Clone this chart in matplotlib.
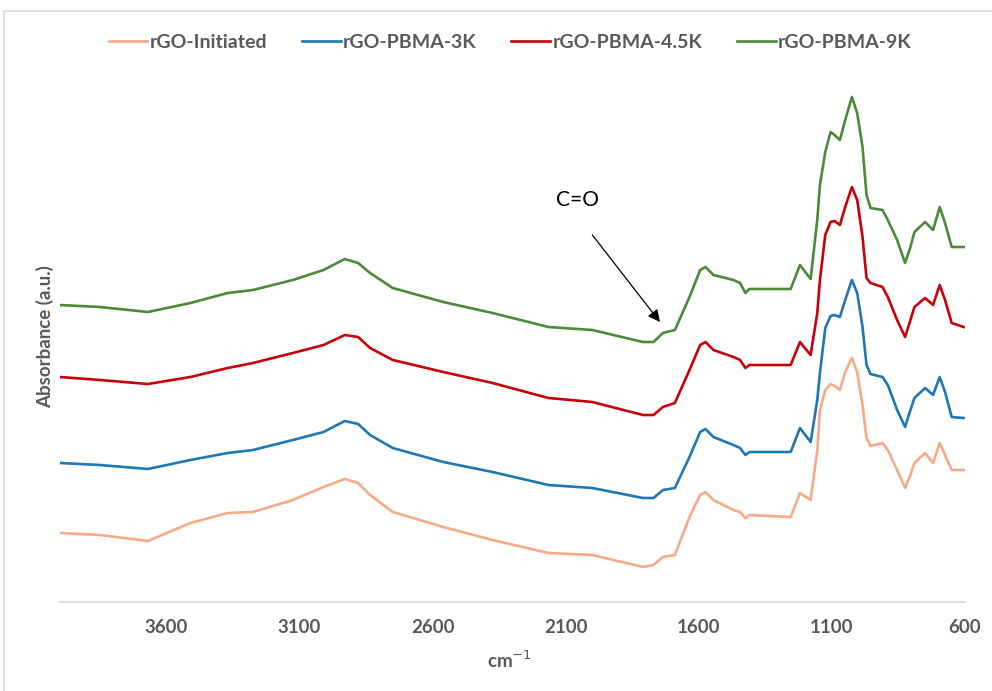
import matplotlib
matplotlib.use('Agg')
import matplotlib.pyplot as plt
from matplotlib.patches import Rectangle

# wavenumber grid (cm-1) shared by all spectra
wavenumber = [4000, 3850, 3670, 3510, 3370, 3275, 3125, 3010, 2930, 2880,
              2835, 2750, 2560, 2375, 2165, 2000, 1810, 1770, 1735, 1690,
              1635, 1595, 1575, 1545, 1470, 1445, 1425, 1410, 1255, 1220,
              1180, 1155, 1145, 1125, 1105, 1090, 1070, 1050, 1025, 1005,
              985, 970, 955, 910, 890, 855, 825, 805, 790, 750,
              720, 695, 675, 650, 605]

# stacked absorbance (offset, arbitrary units)
rgo_initiated = [0.69, 0.67, 0.61, 0.79, 0.89, 0.90, 1.02, 1.15, 1.23, 1.19,
                 1.07, 0.90, 0.75, 0.62, 0.49, 0.47, 0.35, 0.37, 0.45, 0.47,
                 0.85, 1.07, 1.10, 1.02, 0.92, 0.90, 0.84, 0.87, 0.85, 1.09,
                 1.02, 1.52, 1.92, 2.12, 2.18, 2.16, 2.12, 2.30, 2.44, 2.30,
                 1.97, 1.64, 1.56, 1.59, 1.52, 1.32, 1.14, 1.27, 1.39, 1.49,
                 1.39, 1.59, 1.47, 1.32, 1.32]
pbma_3k = [1.39, 1.37, 1.33, 1.42, 1.49, 1.52, 1.62, 1.70, 1.81, 1.78,
           1.67, 1.54, 1.40, 1.30, 1.17, 1.14, 1.04, 1.04, 1.12, 1.14,
           1.45, 1.70, 1.73, 1.65, 1.57, 1.54, 1.47, 1.50, 1.50, 1.74,
           1.60, 2.02, 2.29, 2.74, 2.86, 2.87, 2.85, 3.02, 3.22, 3.09,
           2.75, 2.37, 2.28, 2.25, 2.17, 1.92, 1.75, 1.92, 2.04, 2.14,
           2.07, 2.25, 2.10, 1.85, 1.84]
pbma_45k = [2.25, 2.22, 2.18, 2.25, 2.34, 2.39, 2.49, 2.57, 2.67, 2.65,
            2.54, 2.42, 2.30, 2.19, 2.04, 2.00, 1.87, 1.87, 1.95, 1.99,
            2.32, 2.57, 2.60, 2.52, 2.45, 2.42, 2.34, 2.37, 2.37, 2.60,
            2.47, 2.89, 3.22, 3.67, 3.80, 3.81, 3.77, 3.95, 4.15, 4.02,
            3.65, 3.24, 3.19, 3.15, 3.05, 2.82, 2.65, 2.82, 2.95, 3.04,
            2.97, 3.17, 3.02, 2.79, 2.75]
pbma_9k = [2.97, 2.95, 2.90, 2.99, 3.09, 3.12, 3.22, 3.32, 3.43, 3.39,
           3.29, 3.14, 3.00, 2.89, 2.75, 2.72, 2.60, 2.60, 2.69, 2.72,
           3.05, 3.32, 3.35, 3.27, 3.22, 3.19, 3.09, 3.13, 3.13, 3.37,
           3.23, 3.82, 4.17, 4.50, 4.70, 4.67, 4.62, 4.82, 5.05, 4.89,
           4.55, 4.07, 3.94, 3.92, 3.82, 3.62, 3.39, 3.55, 3.70, 3.80,
           3.72, 3.95, 3.79, 3.55, 3.55]

labels = ['rGO-Initiated', 'rGO-PBMA-3K', 'rGO-PBMA-4.5K', 'rGO-PBMA-9K']
colors = ['#F7AA84', '#1F77B4', '#C8000A', '#4C8A38']
xticks = [3600, 3100, 2600, 2100, 1600, 1100, 600]

grey = '#595959'
plt.rcParams['font.family'] = ['Lato', 'DejaVu Sans']

fig = plt.figure(figsize=(9.92, 6.91), dpi=100)
fig.patches.append(Rectangle((4 / 992, -0.1), 1.2, (691 - 11) / 691 + 0.1,
                             transform=fig.transFigure, fill=False,
                             edgecolor='#d9d9d9', linewidth=1.2))

ax = fig.add_axes([60 / 992, 1 - 602 / 691, 905 / 992, 532 / 691])
for y, lab, c in zip([rgo_initiated, pbma_3k, pbma_45k, pbma_9k], labels, colors):
    ax.plot(wavenumber, y, color=c, lw=1.9, label=lab,
            solid_joinstyle='round')

ax.set_xlim(4000, 600)
ax.set_ylim(0, 5.32)
ax.set_xticks(xticks)
ax.set_xticklabels([str(t) for t in xticks], fontsize=13.5,
                   fontweight='bold', color=grey)
ax.tick_params(axis='x', length=0, pad=12)
ax.set_yticks([])
for s in ['top', 'right', 'left']:
    ax.spines[s].set_visible(False)
ax.spines['bottom'].set_color('#d9d9d9')
ax.spines['bottom'].set_linewidth(1.3)

ax.annotate('', xy=(1746, 2.80), xytext=(2000, 3.67),
            arrowprops=dict(arrowstyle='-|>', color='black', lw=0.9,
                            mutation_scale=18, shrinkA=0, shrinkB=0))
ax.text(2054, 4.02, 'C=O', fontsize=15, color='black', ha='center',
        va='center')

fig.text(510 / 992, 1 - 660 / 691, 'cm$^{-1}$', fontsize=13.5,
         fontweight='bold', color=grey, ha='center', va='center')
fig.text(45 / 992, 1 - 337 / 691, 'Absorbance (a.u.)', fontsize=13.5,
         fontweight='bold', color=grey, rotation=90, ha='center',
         va='center')

leg = fig.legend(loc='center', bbox_to_anchor=(510 / 992, 1 - 42 / 691),
                 ncol=4, frameon=False, fontsize=14, handlelength=2.0,
                 handletextpad=0.1, columnspacing=1.8)
for t in leg.get_texts():
    t.set_color(grey)
    t.set_fontweight('bold')

fig.savefig('out.png', dpi=100)
